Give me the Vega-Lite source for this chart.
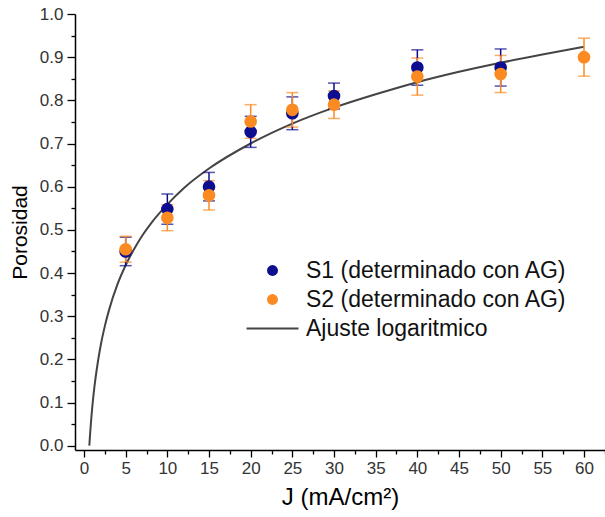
{
  "$schema": "https://vega.github.io/schema/vega-lite/v6.json",
  "autosize": {"type": "none"},
  "width": 530,
  "height": 436,
  "padding": {"left": 75, "top": 14, "right": 0, "bottom": 67},
  "background": "white",
  "config": {
    "view": {"stroke": null},
    "font": "Liberation Sans",
    "legend": {"rowPadding": 5},
    "axis": {
      "domainColor": "#000000",
      "domainWidth": 1.5,
      "tickColor": "#000000",
      "tickWidth": 1.3,
      "grid": false,
      "labelFont": "Liberation Sans",
      "labelColor": "#333333",
      "labelFontSize": 17,
      "titleFont": "Liberation Sans",
      "titleColor": "#000000",
      "titleFontWeight": "normal",
      "titleFontSize": 21
    }
  },
  "datasets": {
    "medidas": [
      {"J": 5, "porosidad": 0.450, "error": 0.033, "serie": "S1 (determinado con AG)"},
      {"J": 10, "porosidad": 0.548, "error": 0.035, "serie": "S1 (determinado con AG)"},
      {"J": 15, "porosidad": 0.600, "error": 0.033, "serie": "S1 (determinado con AG)"},
      {"J": 20, "porosidad": 0.727, "error": 0.036, "serie": "S1 (determinado con AG)"},
      {"J": 25, "porosidad": 0.770, "error": 0.038, "serie": "S1 (determinado con AG)"},
      {"J": 30, "porosidad": 0.810, "error": 0.030, "serie": "S1 (determinado con AG)"},
      {"J": 40, "porosidad": 0.876, "error": 0.041, "serie": "S1 (determinado con AG)"},
      {"J": 50, "porosidad": 0.876, "error": 0.043, "serie": "S1 (determinado con AG)"},
      {"J": 5, "porosidad": 0.455, "error": 0.030, "serie": "S2 (determinado con AG)"},
      {"J": 10, "porosidad": 0.528, "error": 0.030, "serie": "S2 (determinado con AG)"},
      {"J": 15, "porosidad": 0.580, "error": 0.034, "serie": "S2 (determinado con AG)"},
      {"J": 20, "porosidad": 0.751, "error": 0.039, "serie": "S2 (determinado con AG)"},
      {"J": 25, "porosidad": 0.778, "error": 0.040, "serie": "S2 (determinado con AG)"},
      {"J": 30, "porosidad": 0.790, "error": 0.032, "serie": "S2 (determinado con AG)"},
      {"J": 40, "porosidad": 0.855, "error": 0.043, "serie": "S2 (determinado con AG)"},
      {"J": 50, "porosidad": 0.861, "error": 0.043, "serie": "S2 (determinado con AG)"},
      {"J": 60, "porosidad": 0.900, "error": 0.044, "serie": "S2 (determinado con AG)"}
    ],
    "ajuste": [
      {"J": 0.64, "porosidad": 0.000, "serie": "Ajuste logaritmico"},
      {"J": 0.7, "porosidad": 0.018, "serie": "Ajuste logaritmico"},
      {"J": 0.8, "porosidad": 0.045, "serie": "Ajuste logaritmico"},
      {"J": 0.9, "porosidad": 0.069, "serie": "Ajuste logaritmico"},
      {"J": 1, "porosidad": 0.091, "serie": "Ajuste logaritmico"},
      {"J": 1.25, "porosidad": 0.136, "serie": "Ajuste logaritmico"},
      {"J": 1.5, "porosidad": 0.173, "serie": "Ajuste logaritmico"},
      {"J": 2, "porosidad": 0.232, "serie": "Ajuste logaritmico"},
      {"J": 2.5, "porosidad": 0.277, "serie": "Ajuste logaritmico"},
      {"J": 3, "porosidad": 0.314, "serie": "Ajuste logaritmico"},
      {"J": 4, "porosidad": 0.373, "serie": "Ajuste logaritmico"},
      {"J": 5, "porosidad": 0.418, "serie": "Ajuste logaritmico"},
      {"J": 6, "porosidad": 0.455, "serie": "Ajuste logaritmico"},
      {"J": 7, "porosidad": 0.487, "serie": "Ajuste logaritmico"},
      {"J": 8, "porosidad": 0.514, "serie": "Ajuste logaritmico"},
      {"J": 10, "porosidad": 0.559, "serie": "Ajuste logaritmico"},
      {"J": 12, "porosidad": 0.597, "serie": "Ajuste logaritmico"},
      {"J": 15, "porosidad": 0.642, "serie": "Ajuste logaritmico"},
      {"J": 20, "porosidad": 0.700, "serie": "Ajuste logaritmico"},
      {"J": 25, "porosidad": 0.746, "serie": "Ajuste logaritmico"},
      {"J": 30, "porosidad": 0.783, "serie": "Ajuste logaritmico"},
      {"J": 35, "porosidad": 0.814, "serie": "Ajuste logaritmico"},
      {"J": 40, "porosidad": 0.842, "serie": "Ajuste logaritmico"},
      {"J": 45, "porosidad": 0.866, "serie": "Ajuste logaritmico"},
      {"J": 50, "porosidad": 0.887, "serie": "Ajuste logaritmico"},
      {"J": 55, "porosidad": 0.906, "serie": "Ajuste logaritmico"},
      {"J": 60, "porosidad": 0.924, "serie": "Ajuste logaritmico"}
    ]
  },
  "encoding": {
    "x": {
      "field": "J",
      "type": "quantitative",
      "scale": {"domain": [-1.08, 62.52], "nice": false, "zero": false},
      "axis": {
        "title": "J (mA/cm²)",
        "values": [0, 2.5, 5, 7.5, 10, 12.5, 15, 17.5, 20, 22.5, 25, 27.5, 30, 32.5, 35, 37.5, 40, 42.5, 45, 47.5, 50, 52.5, 55, 57.5, 60, 62.5],
        "labelExpr": "datum.value % 5 === 0 ? format(datum.value, 'd') : ''",
        "tickSize": {"condition": {"test": "datum.value % 5 === 0", "value": 7}, "value": 4},
        "labelPadding": 3,
        "titleFontSize": 24,
        "titlePadding": 9
      }
    },
    "y": {
      "field": "porosidad",
      "type": "quantitative",
      "scale": {"domain": [-0.01, 1.0], "nice": false, "zero": false},
      "axis": {
        "title": "Porosidad",
        "values": [0, 0.05, 0.1, 0.15, 0.2, 0.25, 0.3, 0.35, 0.4, 0.45, 0.5, 0.55, 0.6, 0.65, 0.7, 0.75, 0.8, 0.85, 0.9, 0.95, 1.0],
        "labelExpr": "abs(datum.value * 10 - round(datum.value * 10)) < 0.001 ? format(datum.value, '.1f') : ''",
        "tickSize": {"condition": {"test": "abs(datum.value * 10 - round(datum.value * 10)) < 0.001", "value": 8}, "value": 4},
        "labelPadding": 4,
        "titlePadding": 9
      }
    }
  },
  "layer": [
    {
      "mark": {"type": "rule", "color": "#000000", "strokeWidth": 1.5},
      "encoding": {"y": {"datum": 1.0}, "x": null}
    },
    {
      "data": {"name": "ajuste"},
      "mark": {"type": "line", "interpolate": "monotone", "strokeWidth": 2, "clip": true},
      "encoding": {
        "color": {
          "field": "serie",
          "type": "nominal",
          "scale": {
            "domain": ["S1 (determinado con AG)", "S2 (determinado con AG)", "Ajuste logaritmico"],
            "range": ["#0d0d8f", "#fb8a22", "#444444"]
          },
          "legend": {
            "title": null,
            "orient": "none",
            "legendX": 186,
            "legendY": 245,
            "padding": 0,
            "labelFont": "Liberation Sans",
            "labelFontSize": 23,
            "labelColor": "#111111",
            "labelOffset": 22,
            "labelLimit": 0,
            "symbolSize": 2700,
            "values": ["S1 (determinado con AG)", "S2 (determinado con AG)", "Ajuste logaritmico"],
            "encode": {
              "symbols": {
                "update": {
                  "shape": {"signal": "datum.value === 'Ajuste logaritmico' ? 'stroke' : 'circle'"},
                  "size": {"signal": "datum.value === 'Ajuste logaritmico' ? 2700 : 120"},
                  "fill": {"signal": "datum.value === 'Ajuste logaritmico' ? 'transparent' : scale('color', datum.value)"},
                  "stroke": {"scale": "color", "field": "value"},
                  "strokeWidth": {"signal": "datum.value === 'Ajuste logaritmico' ? 2 : 0"},
                  "opacity": {"value": 1}
                }
              }
            }
          }
        }
      }
    },
    {
      "data": {"name": "medidas"},
      "mark": {"type": "errorbar", "ticks": {"size": 12}, "thickness": 1.5},
      "encoding": {
        "yError": {"field": "error"},
        "color": {"field": "serie", "type": "nominal"}
      }
    },
    {
      "data": {"name": "medidas"},
      "mark": {"type": "point", "filled": true, "opacity": 1, "size": 160},
      "encoding": {
        "color": {"field": "serie", "type": "nominal"}
      }
    }
  ]
}
